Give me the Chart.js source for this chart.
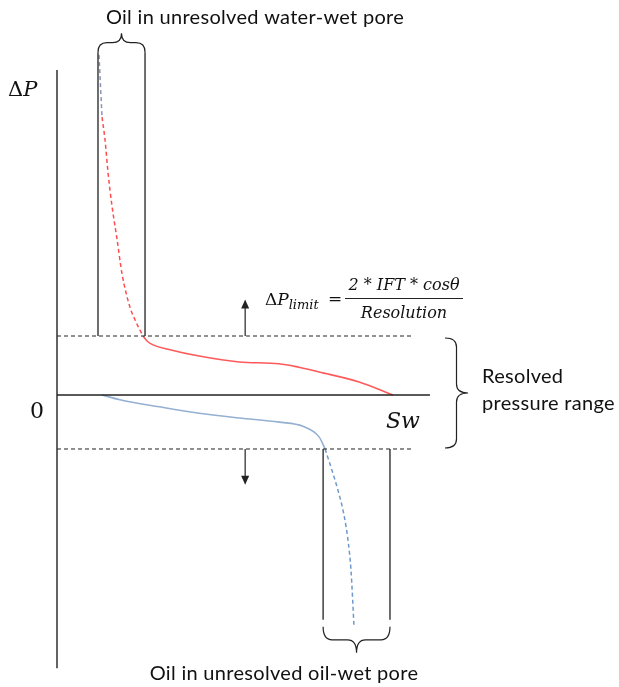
<!DOCTYPE html>
<html>
<head>
<meta charset="utf-8">
<script src="https://cdn.jsdelivr.net/npm/chart.js@4.4.0/dist/chart.umd.min.js"></script>
<style>
  html, body { margin: 0; padding: 0; background: #fff; }
  canvas { display: block; }
</style>
</head>
<body>
<canvas id="myChart" width="619" height="687"></canvas>
<script>
// Sw = water saturation (fraction), dP = capillary pressure (in units of dP limit)
const swGhost = [0.125, 0.134];
const dpGhost = [5.76, 4.71];

const swRedDashed = [0.134, 0.143, 0.152, 0.164, 0.179, 0.193, 0.217, 0.235, 0.256];
const dpRedDashed = [4.71, 4.32, 3.76, 3.19, 2.63, 2.07, 1.49, 1.24, 1.00];

const swRed = [0.256, 0.268, 0.286, 0.327, 0.423, 0.542, 0.661, 0.720, 0.780, 0.899, 1.000];
const dpRed = [1.00, 0.915, 0.85, 0.78, 0.66, 0.56, 0.53, 0.47, 0.39, 0.22, 0.00];

const swBlue = [0.134, 0.187, 0.304, 0.423, 0.542, 0.661, 0.732, 0.780, 0.798];
const dpBlue = [0.00, -0.08, -0.20, -0.31, -0.39, -0.46, -0.53, -0.71, -0.915];

const swBlueDashed = [0.798, 0.818, 0.836, 0.854, 0.866, 0.875, 0.884];
const dpBlueDashed = [-0.915, -1.27, -1.61, -2.03, -2.46, -2.97, -3.93];

// pore walls (Sw) and resolved limits (dP)
const poreWaterWet = [0.122, 0.262];
const poreOilWet = [0.792, 0.991];
const dpLimitUp = 1.0;
const dpLimitDown = -0.915;

const axisTop = 5.51, axisBottom = -4.63, zeroEnd = 1.11, limitEnd = 1.057;
const poreTop = 5.81, poreBottom = -3.81;
const arrowSw = 0.56, arrowUp = 1.62, arrowDown = -1.52;

const pts = (xs, ys) => xs.map((v, i) => ({ x: v, y: ys[i] }));
const seg = (x1, y1, x2, y2) => [{ x: x1, y: y1 }, { x: x2, y: y2 }];

const ink = '#222';
function lineSet(data, opts) {
  return Object.assign({
    data: data, showLine: true, pointRadius: 0, borderColor: ink,
    borderWidth: 1.3, tension: 0, clip: false
  }, opts || {});
}
const curve = { cubicInterpolationMode: 'monotone' };

const data = {
  datasets: [
    lineSet(seg(0, axisTop, 0, axisBottom), { borderWidth: 1.4 }),
    lineSet(seg(0, 0, zeroEnd, 0), { borderWidth: 1.4 }),
    lineSet(seg(0, dpLimitUp, limitEnd, dpLimitUp), { borderWidth: 1, borderDash: [4, 3] }),
    lineSet(seg(0, dpLimitDown, limitEnd, dpLimitDown), { borderWidth: 1, borderDash: [4, 3] }),
    lineSet(seg(poreWaterWet[0], poreTop, poreWaterWet[0], dpLimitUp)),
    lineSet(seg(poreWaterWet[1], poreTop, poreWaterWet[1], dpLimitUp)),
    lineSet(seg(poreOilWet[0], dpLimitDown, poreOilWet[0], poreBottom)),
    lineSet(seg(poreOilWet[1], dpLimitDown, poreOilWet[1], poreBottom)),
    lineSet(pts(swGhost, dpGhost), { borderColor: '#8a96b8', borderWidth: 1.5, borderDash: [4, 3] }),
    lineSet(pts(swRedDashed, dpRedDashed), Object.assign({ borderColor: '#ff4d4d', borderWidth: 1.5, borderDash: [4, 3] }, curve)),
    lineSet(pts(swRed, dpRed), Object.assign({ borderColor: '#ff5a5a', borderWidth: 1.6 }, curve)),
    lineSet(pts(swBlue, dpBlue), Object.assign({ borderColor: '#94b0d2', borderWidth: 1.6 }, curve)),
    lineSet(pts(swBlueDashed, dpBlueDashed), Object.assign({ borderColor: '#6e9acb', borderWidth: 1.5, borderDash: [4, 3] }, curve))
  ]
};

// curly brace: from a to b along the base, tip pointing by "depth"
function brace(ctx, a, b, base, depth, vertical) {
  const mid = (a + b) / 2, h = depth / 2, q = Math.min(9, Math.abs(b - a) / 5);
  const P = (u, v) => vertical ? [v, u] : [u, v];
  ctx.beginPath();
  ctx.moveTo(...P(a, base));
  ctx.quadraticCurveTo(...P(a, base + h), ...P(a + q, base + h));
  ctx.lineTo(...P(mid - q, base + h));
  ctx.quadraticCurveTo(...P(mid, base + h), ...P(mid, base + depth));
  ctx.quadraticCurveTo(...P(mid, base + h), ...P(mid + q, base + h));
  ctx.lineTo(...P(b - q, base + h));
  ctx.quadraticCurveTo(...P(b, base + h), ...P(b, base));
  ctx.stroke();
}

function arrow(ctx, x, y1, y2) {
  const dir = Math.sign(y2 - y1);
  ctx.beginPath();
  ctx.moveTo(x, y1);
  ctx.lineTo(x, y2 - dir * 8);
  ctx.stroke();
  ctx.beginPath();
  ctx.moveTo(x, y2);
  ctx.lineTo(x - 4, y2 - dir * 9);
  ctx.lineTo(x + 4, y2 - dir * 9);
  ctx.closePath();
  ctx.fill();
}

const annotations = {
  id: 'annotations',
  afterDatasetsDraw(chart) {
    const ctx = chart.ctx;
    const X = v => chart.scales.x.getPixelForValue(v);
    const Y = v => chart.scales.y.getPixelForValue(v);
    ctx.save();
    ctx.strokeStyle = ink;
    ctx.fillStyle = ink;
    ctx.lineWidth = 1.2;

    brace(ctx, X(poreWaterWet[0]), X(poreWaterWet[1]), Y(poreTop), -19, false);
    brace(ctx, X(poreOilWet[0]), X(poreOilWet[1]), Y(poreBottom) + 7, 26, false);
    brace(ctx, Y(dpLimitUp) + 2, Y(dpLimitDown) - 1, 445, 23, true);

    arrow(ctx, X(arrowSw), Y(dpLimitUp), Y(arrowUp));
    arrow(ctx, X(arrowSw), Y(dpLimitDown), Y(arrowDown));

    ctx.fillStyle = '#111';
    ctx.font = '20px Lato';
    ctx.letterSpacing = '0.3px';
    ctx.textBaseline = 'alphabetic';
    ctx.textAlign = 'center';
    ctx.fillText('Oil in unresolved water-wet pore', 255, 24);
    ctx.fillText('Oil in unresolved oil-wet pore', 284, 680);
    ctx.textAlign = 'left';
    ctx.fillText('Resolved', 482, 383);
    ctx.fillText('pressure range', 482, 410);
    ctx.letterSpacing = '0px';

    // math labels
    ctx.font = '21px "DejaVu Serif"';
    ctx.fillText('\u0394', 8, 96);
    let w = ctx.measureText('\u0394').width;
    ctx.font = 'italic 21px "DejaVu Serif"';
    ctx.fillText('P', 8 + w, 96);
    ctx.font = '22px "DejaVu Serif"';
    ctx.textAlign = 'center';
    ctx.fillText('0', 37, 418);
    ctx.textAlign = 'left';
    ctx.font = 'italic 22px "DejaVu Serif"';
    ctx.fillText('Sw', 386, 428);

    // formula
    let fx = 265;
    ctx.font = '17px "DejaVu Serif"';
    ctx.fillText('\u0394', fx, 305);
    fx += ctx.measureText('\u0394').width;
    ctx.font = 'italic 17px "DejaVu Serif"';
    ctx.fillText('P', fx, 305);
    fx += ctx.measureText('P').width;
    ctx.font = 'italic 13px "DejaVu Serif"';
    ctx.fillText('limit', fx, 309, 30);
    ctx.font = '17px "DejaVu Serif"';
    ctx.fillText('=', 328, 304);
    ctx.font = 'italic 16px "DejaVu Serif"';
    ctx.textAlign = 'center';
    ctx.fillText('2 * IFT * cos\u03B8', 404, 290, 113);
    ctx.fillText('Resolution', 404, 318, 92);
    ctx.lineWidth = 1;
    ctx.beginPath();
    ctx.moveTo(345, 298.5);
    ctx.lineTo(463, 298.5);
    ctx.stroke();
    ctx.restore();
  }
};

const config = {
  type: 'scatter',
  data: data,
  options: {
    responsive: false,
    animation: false,
    layout: { padding: 0 },
    plugins: {
      legend: { display: false },
      tooltip: { enabled: false }
    },
    scales: {
      x: { type: 'linear', display: false, min: -57 / 336, max: 562 / 336 },
      y: { type: 'linear', display: false, min: -292 / 59, max: 395 / 59 }
    }
  },
  plugins: [annotations]
};

const myChart = new Chart(document.getElementById('myChart'), config);
</script>
</body>
</html>
